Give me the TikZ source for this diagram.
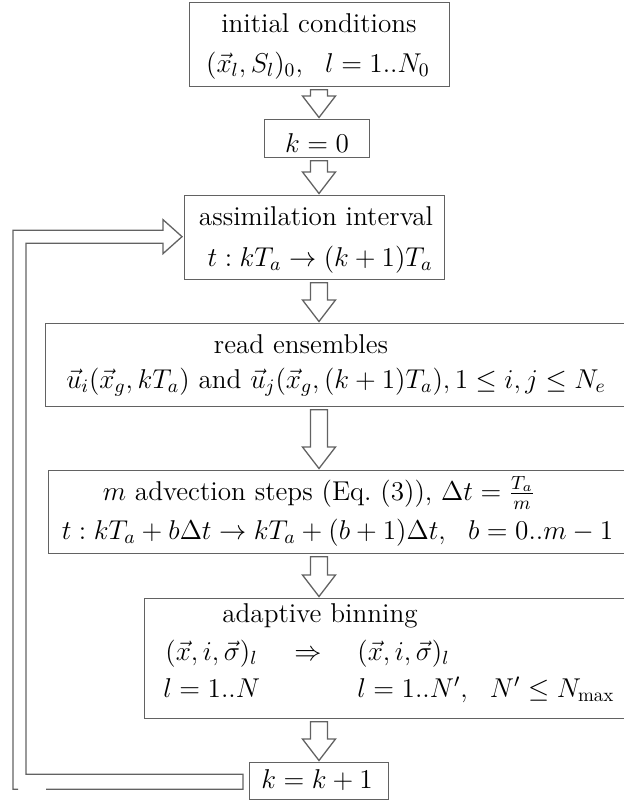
\documentclass[tikz,border=0pt]{standalone}
\usepackage{fix-cm}
\usepackage{fontspec}
\usetikzlibrary{calc}
\definecolor{linegray}{HTML}{626262}
\tikzset{
  box/.style={draw=linegray, line width=0.65pt, inner sep=0pt, anchor=north west},
  txt/.style={inner sep=0pt, text=black, anchor=base, font=\fontsize{13.6}{16}\selectfont},
  txtl/.style={txt, anchor=base west},
  blockline/.style={draw=linegray, line width=0.65pt, line join=miter},
}
\newcommand{\blockdown}[2]{%
  \path (#1.south -| colx) coordinate (ba-top) (#2.north -| colx) coordinate (ba-bot);
  \draw[blockline] ($(ba-top)+(-8.5,2.5)$) -- ($(ba-bot)+(-8.5,-23)$) -- ($(ba-bot)+(-16.5,-23)$)
     -- ($(ba-bot)+(0,-1.5)$) -- ($(ba-bot)+(16.5,-23)$) -- ($(ba-bot)+(8.5,-23)$)
     -- ($(ba-top)+(8.5,2.5)$) -- cycle;}
\begin{document}
\begin{tikzpicture}[x=0.5pt,y=-0.5pt]
\useasboundingbox (0,0) rectangle (624,800);
\clip (0,0) rectangle (624,800);
\coordinate (colx) at (319,0);
\coordinate (inx) at (26,0);
\coordinate (outx) at (13,0);
% boxes
\node[box, minimum width=130pt, minimum height=42pt] (b1) at (189,2) {};
\node[box, minimum width=52.5pt, minimum height=19pt] (b2) at (264,119) {};
\node[box, minimum width=130pt, minimum height=42pt] (b3) at (184,195) {};
\node[box, minimum width=292pt, minimum height=41.5pt] (b4) at (44.5,323) {};
\node[box, minimum width=290pt, minimum height=41.5pt] (b5) at (48,470) {};
\node[box, minimum width=242pt, minimum height=60pt] (b6) at (144,598) {};
\node[box, minimum width=69.5pt, minimum height=18.5pt] (b7) at (249,762) {};
% texts
\node[txt] (t1a) at (319,32) {initial conditions};
\node[txt] (t1b) at (318,72) {$(\vec{x}_l,S_l)_0,\ \ l=1..N_0$};
\node[txt] (t2) at (317,152) {$k=0$};
\node[txt] (t3a) at (316,225) {assimilation interval};
\node[txt] (t3b) at (320,266) {$t:kT_a\to(k+1)T_a$};
\node[txt] (t4a) at (301,353) {read ensembles};
\node[txt] (t4b) at (336,388) {$\vec{u}_i(\vec{x}_g,kT_a)$ and $\vec{u}_j(\vec{x}_g,(k+1)T_a),1\le i,j\le N_e$};
\node[txt] (t5a) at (319,500) {$m$ advection steps (Eq.~(3)), $\Delta t=\frac{T_a}{m}$};
\node[txt] (t5b) at (337.5,539) {$t:kT_a+b\Delta t\to kT_a+(b+1)\Delta t,\ \ b=0..m-1$};
\node[txt] (t6a) at (320,622) {adaptive binning};
\node[txtl] (t6b) at (165,660) {$(\vec{x},i,\vec{\sigma})_l$};
\node[txt] (t6c) at (308,660) {$\Rightarrow$};
\node[txtl] (t6d) at (357,660) {$(\vec{x},i,\vec{\sigma})_l$};
\node[txtl] (t6e) at (163,697) {$l=1..N$};
\node[txtl] (t6f) at (357,697) {$l=1..N',\ \ N'\le N_{\max}$};
\node[txt] (t7) at (317,788) {$k=k+1$};
% block arrows
\blockdown{b1}{b2}
\blockdown{b2}{b3}
\blockdown{b3}{b4}
\blockdown{b4}{b5}
\blockdown{b5}{b6}
\blockdown{b6}{b7}
% feedback arrow
\path (b7.west) ++(-6,-7) coordinate (f1);
\path (b7.west) ++(-6,8) coordinate (f2);
\path (b3.west) ++(-2,-1) coordinate (tip);
\coordinate (hbi) at ($(tip)+(-19,6.5)$);
\coordinate (hbo) at ($(tip)+(-19,-6.5)$);
\coordinate (hhi) at ($(tip)+(-19,17)$);
\coordinate (hho) at ($(tip)+(-19,-17)$);
\coordinate (gapa) at (46,0);
\coordinate (gapb) at (18,0);
\draw[blockline] (gapa |- f2) -- (f2) -- (f1) -- (inx |- f1) -- (inx |- hbi) -- (hbi) -- (hhi) -- (tip)
  -- (hho) -- (hbo) -- (outx |- hbo) -- (outx |- f2) -- (gapb |- f2);
\end{tikzpicture}
\end{document}
